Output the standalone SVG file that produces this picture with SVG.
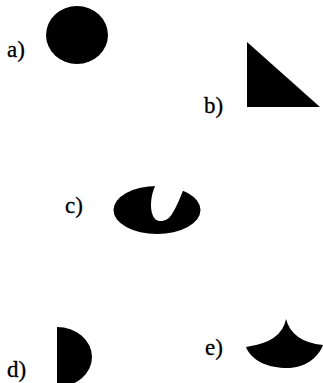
<svg xmlns="http://www.w3.org/2000/svg" width="323" height="383" viewBox="0 0 323 383">
<style>
.lbl{font-family:"Liberation Serif","Times New Roman",serif;font-size:23px;fill:#000;stroke:#000;stroke-width:0.3}
.sh{fill:#000}
</style>
<rect width="323" height="383" fill="#fff"/>
<g id="a">
<ellipse class="sh" cx="77" cy="35" rx="31" ry="29"/>
<text class="lbl" x="7" y="57">a)</text>
</g>
<g id="b">
<path class="sh" d="M247,42 L247,107 L320,107 Z"/>
<text class="lbl" x="204" y="113">b)</text>
</g>
<g id="c">
<ellipse class="sh" cx="157" cy="210" rx="43.5" ry="24"/>
<path fill="#fff" d="M156,184 C150,196 149,212 155,219 C160,223 168,221 172,214 C177,206 181,196 184,188 L184,183 Z"/>
<text class="lbl" x="65" y="213">c)</text>
</g>
<g id="d">
<path class="sh" d="M57,327 A35,30 0 0 1 57,387 Z"/>
<text class="lbl" x="7" y="377">d)</text>
</g>
<g id="e">
<path class="sh" d="M286,319 Q282,342 246,347 C252,362 270,368 287,368 C305,368 318,358 323,345 Q292,342 286,319 Z"/>
<text class="lbl" x="205" y="355">e)</text>
</g>
</svg>
